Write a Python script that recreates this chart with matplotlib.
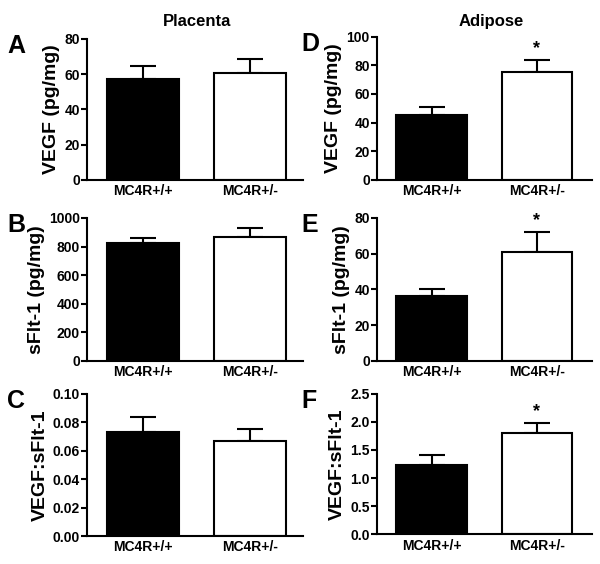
import numpy as np
import matplotlib.pyplot as plt
from matplotlib.ticker import FormatStrFormatter

plt.rcParams['font.family'] = ['Liberation Sans', 'DejaVu Sans']
plt.rcParams['font.weight'] = 'bold'

groups = ['MC4R+/+', 'MC4R+/-']

# placenta
plac_vegf = [57.1, 60.9]
plac_vegf_err = [7.5, 7.5]
plac_sflt = [825, 864]
plac_sflt_err = [37, 66]
plac_ratio = [0.073, 0.0666]
plac_ratio_err = [0.011, 0.0084]

# adipose
adip_vegf = [45.5, 75.3]
adip_vegf_err = [5.3, 8.4]
adip_sflt = [36.3, 60.7]
adip_sflt_err = [3.8, 11.4]
adip_ratio = [1.232, 1.808]
adip_ratio_err = [0.17, 0.17]

signif = [False, True]

panels = [
    # letter, values, errors, ylabel, ymax, step, fmt, stars, rect
    ('A', plac_vegf, plac_vegf_err, 'VEGF (pg/mg)', 80, 20, '%d', False, [0.145, 0.681, 0.360, 0.250]),
    ('B', plac_sflt, plac_sflt_err, 'sFlt-1 (pg/mg)', 1000, 200, '%d', False, [0.145, 0.360, 0.360, 0.2535]),
    ('C', plac_ratio, plac_ratio_err, 'VEGF:sFlt-1', 0.10, 0.02, '%.2f', False, [0.145, 0.0496, 0.360, 0.252]),
    ('D', adip_vegf, adip_vegf_err, 'VEGF (pg/mg)', 100, 20, '%d', True, [0.628, 0.681, 0.358, 0.254]),
    ('E', adip_sflt, adip_sflt_err, 'sFlt-1 (pg/mg)', 80, 20, '%d', True, [0.628, 0.360, 0.358, 0.2535]),
    ('F', adip_ratio, adip_ratio_err, 'VEGF:sFlt-1', 2.5, 0.5, '%.1f', True, [0.628, 0.0525, 0.358, 0.2495]),
]

fig = plt.figure(figsize=(6, 5.64), dpi=100)

for letter, vals, errs, ylab, ymax, step, fmt, stars, rect in panels:
    ax = fig.add_axes(rect)
    x = np.arange(len(groups))
    ax.bar(x, vals, width=0.67, color=['black', 'white'], edgecolor='black', linewidth=1.5, zorder=2)
    ax.errorbar(x, vals, yerr=[np.zeros(len(vals)), errs], fmt='none', ecolor='black',
                elinewidth=1.5, capsize=9.5, capthick=1.5, zorder=1)
    if stars:
        for i in range(len(vals)):
            if signif[i]:
                ax.annotate('*', (x[i], vals[i] + errs[i]), xytext=(0, 2), textcoords='offset points',
                            ha='center', va='bottom', fontsize=13, fontweight='bold')
    ax.set_xlim(-0.52, 1.49 if rect[0] < 0.5 else 1.52)
    ax.set_ylim(0, ymax)
    ax.set_yticks(np.arange(0, ymax + step / 2, step))
    ax.yaxis.set_major_formatter(FormatStrFormatter(fmt))
    ax.set_xticks(x)
    ax.set_xticklabels(groups)
    ax.spines['top'].set_visible(False)
    ax.spines['right'].set_visible(False)
    ax.spines['left'].set_linewidth(1.5)
    ax.spines['bottom'].set_linewidth(1.5)
    ax.tick_params(axis='y', length=4, width=1.5, labelsize=10, pad=1)
    ax.tick_params(axis='x', length=0, labelsize=10, pad=3)
    for lab in ax.get_xticklabels() + ax.get_yticklabels():
        lab.set_fontweight('bold')
    ax.set_ylabel(ylab, fontsize=14, fontweight='bold', labelpad=3)
    lx = 0.012 if rect[0] < 0.5 else 0.502
    ly = rect[1] + rect[3] + 0.008
    fig.text(lx, ly, letter, fontsize=18, fontweight='bold', ha='left', va='top')

fig.text(0.329, 0.975, 'Placenta', fontsize=12, fontweight='bold', ha='center', va='top')
fig.text(0.818, 0.975, 'Adipose', fontsize=12, fontweight='bold', ha='center', va='top')

plt.savefig('out.png', dpi=100)
